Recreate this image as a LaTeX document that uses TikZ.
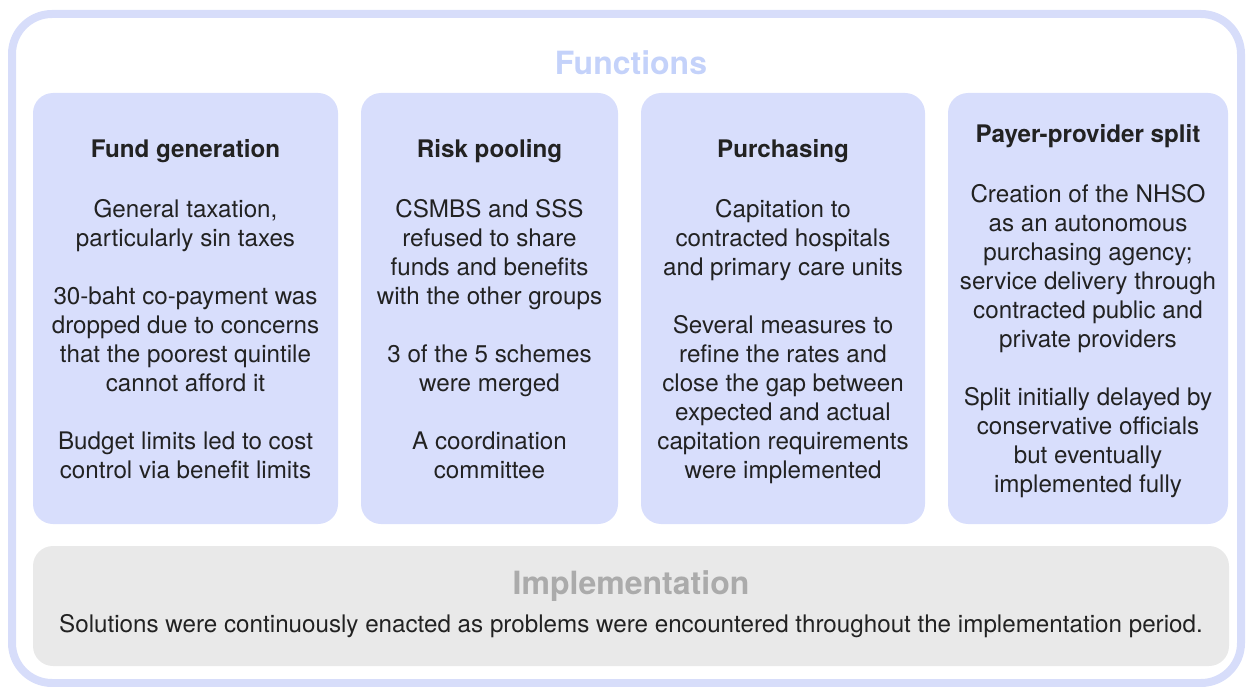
\documentclass[tikz,border=0pt]{standalone}
\usepackage{fontspec}
\setmainfont{TeX Gyre Heros}
\definecolor{frameblue}{HTML}{D7DDFA}
\definecolor{boxblue}{HTML}{D8DEFC}
\definecolor{titleblue}{HTML}{C4D2FA}
\definecolor{implgray}{HTML}{E9E9E9}
\definecolor{impltitle}{HTML}{ABABAB}
\definecolor{bodytext}{HTML}{222222}
\begin{document}
\begin{tikzpicture}[x=1pt,y=-1pt,
  funcbox/.style={fill=boxblue, rounded corners=20pt, inner sep=0pt, minimum height=431pt},
  implbox/.style={fill=implgray, rounded corners=20pt, inner sep=0pt},
  boxtext/.style={align=center, text=bodytext, inner sep=0pt, font=\fontsize{24.2}{29}\selectfont},
  bigtitle/.style={font=\bfseries\fontsize{32}{36}\selectfont, inner sep=0pt}
]
\useasboundingbox (0,0) rectangle (1248,687);
% outer frame
\draw[frameblue, line width=8pt, rounded corners=40pt] (12,14) rectangle (1241,683);
\node[bigtitle, text=titleblue] (functions) at (631,63) {Functions};
% function boxes
\node[funcbox, minimum width=305pt] (b1) at (185.5,308.5) {};
\node[funcbox, minimum width=257pt] (b2) at (489.5,308.5) {};
\node[funcbox, minimum width=284pt] (b3) at (783,308.5) {};
\node[funcbox, minimum width=280pt] (b4) at (1088,308.5) {};
\node[boxtext] (t1) at ([yshift=-1pt]b1.center) {\textbf{Fund generation}\\[31pt]
General taxation,\\particularly sin taxes\\[29pt]
30-baht co-payment was\\dropped due to concerns\\that the poorest quintile\\cannot afford it\\[29pt]
Budget limits led to cost\\control via benefit limits};
\node[boxtext] (t2) at ([yshift=-1pt]b2.center) {\textbf{Risk pooling}\\[31pt]
CSMBS and SSS\\refused to share\\funds and benefits\\with the other groups\\[29pt]
3 of the 5 schemes\\were merged\\[29pt]
A coordination\\committee};
\node[boxtext] (t3) at ([yshift=-3pt]b3.center) {\textbf{Purchasing}\\[31pt]
Capitation to\\contracted hospitals\\and primary care units\\[29pt]
Several measures to\\refine the rates and\\close the gap between\\expected and actual\\capitation requirements\\were implemented};
\node[boxtext] (t4) at ([yshift=-2.5pt]b4.center) {\textbf{Payer-provider split}\\[31pt]
Creation of the NHSO\\as an autonomous\\purchasing agency;\\service delivery through\\contracted public and\\private providers\\[29pt]
Split initially delayed by\\conservative officials\\but eventually\\implemented fully};
% implementation
\node[implbox, minimum width=1196pt, minimum height=120pt] (impl) at (631,606) {};
\node[bigtitle, text=impltitle] (impltitle) at (631,586) {Implementation};
\node[boxtext] (impltext) at (631,626) {Solutions were continuously enacted as problems were encountered throughout the implementation period.};
\end{tikzpicture}
\end{document}
